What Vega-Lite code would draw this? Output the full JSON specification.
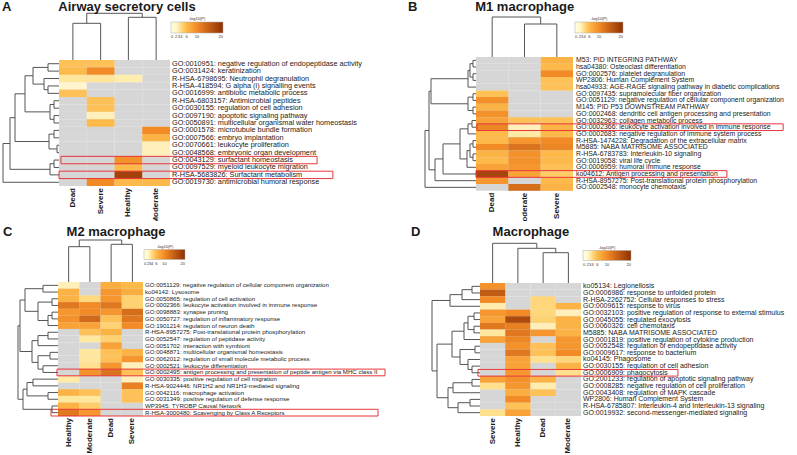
{
"$schema": "https://vega.github.io/schema/vega-lite/v6.json",
"padding": 0,
"spacing": 0,
"resolve": {"scale": {"color": "independent"}, "legend": {"color": "independent"}},
"config": {
  "view": {"stroke": null},
  "axis": {"disable": true},
  "font": "Liberation Sans",
  "text": {"font": "Liberation Sans", "color": "#222"},
  "rule": {"color": "#555", "strokeWidth": 1},
  "title": {"anchor": "start", "frame": "group", "fontSize": 13, "fontWeight": "bold", "font": "Liberation Sans", "color": "#1a1a1a", "offset": -14},
  "legend": {"orient": "none", "direction": "horizontal", "titleFontSize": 4, "titleFontWeight": "normal", "titleAnchor": "middle", "titlePadding": 1, "labelFontSize": 4, "labelOffset": 1, "labelOverlap": false, "gradientStrokeColor": "#aaa", "gradientStrokeWidth": 0.5, "titleColor": "#333", "labelColor": "#333", "titleFont": "Liberation Sans", "labelFont": "Liberation Sans"}
},
"datasets": {
  "A": [
    {"t":"GO:0010951: negative regulation of endopeptidase activity","Dead":5.5,"Severe":5.5},
    {"t":"GO:0031424: keratinization","Dead":6,"Severe":10},
    {"t":"R-HSA-6798695: Neutrophil degranulation","Dead":3.3,"Severe":3.3,"Healthy":2.8},
    {"t":"R-HSA-418594: G alpha (i) signalling events","Dead":2},
    {"t":"GO:0016999: antibiotic metabolic process","Dead":5.5},
    {"t":"R-HSA-6803157: Antimicrobial peptides","Severe":5.5},
    {"t":"GO:0030155: regulation of cell adhesion","Severe":5.5},
    {"t":"GO:0097190: apoptotic signaling pathway","Severe":2.5},
    {"t":"GO:0050891: multicellular organismal water homeostasis","Severe":6},
    {"t":"GO:0001578: microtubule bundle formation","Moderate":10},
    {"t":"GO:0007566: embryo implantation","Moderate":6.5},
    {"t":"GO:0070661: leukocyte proliferation","Moderate":2.5},
    {"t":"GO:0048568: embryonic organ development","Moderate":2.5},
    {"t":"GO:0043129: surfactant homeostasis","Healthy":9.5},
    {"t":"GO:0097529: myeloid leukocyte migration","Healthy":6},
    {"t":"R-HSA-5683826: Surfactant metabolism","Healthy":18},
    {"t":"GO:0019730: antimicrobial humoral response","Severe":10,"Healthy":6,"Moderate":6}
  ],
  "Ah": [
    {"t":"GO:0043129: surfactant homeostasis","b0":0.07,"b1":9.3},
    {"t":"R-HSA-5683826: Surfactant metabolism","b0":0,"b1":9.87}
  ],
  "Ar": [
    {"H":11,"a":0.5,"ha":0,"b":1.5,"hb":0},
    {"H":11,"a":3.5,"ha":0,"b":4.5,"hb":0},
    {"H":15,"a":2.5,"ha":0,"b":4,"hb":11},
    {"H":26,"a":1,"ha":11,"b":3.25,"hb":15},
    {"H":5,"a":5.5,"ha":0,"b":6.5,"hb":0},
    {"H":5,"a":7.5,"ha":0,"b":8.5,"hb":0},
    {"H":9,"a":6,"ha":5,"b":8,"hb":5},
    {"H":34,"a":2.125,"ha":26,"b":7,"hb":9},
    {"H":5,"a":9.5,"ha":0,"b":10.5,"hb":0},
    {"H":2,"a":11.5,"ha":0,"b":12.5,"hb":0},
    {"H":10,"a":10,"ha":5,"b":12,"hb":2},
    {"H":44,"a":4.56,"ha":34,"b":11,"hb":10},
    {"H":5,"a":13.5,"ha":0,"b":14.5,"hb":0},
    {"H":9,"a":14,"ha":5,"b":15.5,"hb":0},
    {"H":49,"a":7.78,"ha":44,"b":14.75,"hb":9},
    {"H":56,"a":11.27,"ha":49,"b":16.5,"hb":0}
  ],
  "Ac": [
    {"H":36.7,"a":0.5,"ha":0,"b":1.5,"hb":0},
    {"H":42.7,"a":2.5,"ha":0,"b":3.5,"hb":0},
    {"H":46.7,"a":1,"ha":36.7,"b":3,"hb":42.7}
  ],
  "B": [
    {"t":"M53: PID INTEGRIN3 PATHWAY","Severe":6.5},
    {"t":"hsa04380: Osteoclast differentiation","Severe":6},
    {"t":"GO:0002576: platelet degranulation","Severe":10},
    {"t":"WP2806: Human Complement System","Severe":5.5},
    {"t":"hsa04933: AGE-RAGE signaling pathway in diabetic complications","Severe":5.5},
    {"t":"GO:0097435: supramolecular fiber organization","Dead":5.5},
    {"t":"GO:0051129: negative regulation of cellular component organization","Dead":9.5},
    {"t":"M145: PID P53 DOWNSTREAM PATHWAY","Dead":6.5},
    {"t":"GO:0002468: dendritic cell antigen processing and presentation","Dead":9.5},
    {"t":"GO:0032963: collagen metabolic process","Dead":8,"Moderate":5.5,"Severe":5.5},
    {"t":"GO:0002366: leukocyte activation involved in immune response","Dead":10.5,"Moderate":2.5,"Severe":6.5},
    {"t":"GO:0002683: negative regulation of immune system process","Dead":6,"Moderate":3,"Severe":6},
    {"t":"R-HSA-1474228: Degradation of the extracellular matrix","Dead":6,"Moderate":9,"Severe":10},
    {"t":"M5885: NABA MATRISOME ASSOCIATED","Dead":10,"Moderate":12.5,"Severe":10.5},
    {"t":"R-HSA-6783783: Interleukin-10 signaling","Dead":6.5,"Moderate":9.5,"Severe":6},
    {"t":"GO:0019058: viral life cycle","Dead":6,"Moderate":9.5,"Severe":6},
    {"t":"GO:0006959: humoral immune response","Dead":8,"Moderate":9,"Severe":5.5},
    {"t":"ko04612: Antigen processing and presentation","Dead":17.5,"Moderate":8,"Severe":4.8},
    {"t":"R-HSA-8957275: Post-translational protein phosphorylation","Dead":9,"Severe":6},
    {"t":"GO:0002548: monocyte chemotaxis","Moderate":13,"Severe":6.5}
  ],
  "Bh": [
    {"t":"GO:0002366: leukocyte activation involved in immune response","b0":0.03,"b1":9.5},
    {"t":"ko04612: Antigen processing and presentation","b0":0,"b1":7.76}
  ],
  "Br": [
    {"H":3,"a":0.5,"ha":0,"b":1.5,"hb":0},
    {"H":3,"a":2.5,"ha":0,"b":3.5,"hb":0},
    {"H":6,"a":1,"ha":3,"b":3,"hb":3},
    {"H":8,"a":2,"ha":6,"b":4.5,"hb":0},
    {"H":3,"a":5.5,"ha":0,"b":6.5,"hb":0},
    {"H":3,"a":7.5,"ha":0,"b":8.5,"hb":0},
    {"H":8,"a":6,"ha":3,"b":8,"hb":3},
    {"H":45,"a":3.25,"ha":8,"b":7,"hb":8},
    {"H":4,"a":9.5,"ha":0,"b":10.5,"hb":0},
    {"H":8,"a":10,"ha":4,"b":11.5,"hb":0},
    {"H":3,"a":12.5,"ha":0,"b":13.5,"hb":0},
    {"H":3,"a":14.5,"ha":0,"b":15.5,"hb":0},
    {"H":6,"a":13,"ha":3,"b":15,"hb":3},
    {"H":9,"a":14,"ha":6,"b":16.5,"hb":0},
    {"H":16,"a":10.75,"ha":8,"b":15.25,"hb":9},
    {"H":33,"a":13,"ha":16,"b":17.5,"hb":0},
    {"H":41,"a":15.25,"ha":33,"b":18.5,"hb":0},
    {"H":47,"a":5.125,"ha":45,"b":16.875,"hb":41},
    {"H":51,"a":11,"ha":47,"b":19.5,"hb":0}
  ],
  "Bc": [
    {"H":33,"a":1.5,"ha":0,"b":2.5,"hb":0},
    {"H":40,"a":0.5,"ha":0,"b":2,"hb":33}
  ],
  "C": [
    {"t":"GO:0051129: negative regulation of cellular component organization","Healthy":2.5,"Dead":7,"Severe":6},
    {"t":"ko04142: Lysosome","Healthy":6.5,"Dead":9,"Severe":7},
    {"t":"GO:0050865: regulation of cell activation","Healthy":6.5,"Moderate":4,"Dead":9,"Severe":4.5},
    {"t":"GO:0002366: leukocyte activation involved in immune response","Healthy":12,"Moderate":10,"Dead":12,"Severe":4.5},
    {"t":"GO:0098883: synapse pruning","Healthy":9,"Moderate":10,"Dead":9,"Severe":13},
    {"t":"GO:0050727: regulation of inflammatory response","Healthy":9.5,"Moderate":13.5,"Dead":5.5,"Severe":12},
    {"t":"GO:1901214: regulation of neuron death","Healthy":8,"Moderate":8,"Dead":4.5,"Severe":10},
    {"t":"R-HSA-8957275: Post-translational protein phosphorylation","Moderate":5.5,"Dead":6.5},
    {"t":"GO:0052547: regulation of peptidase activity","Moderate":3.2,"Dead":4.5},
    {"t":"GO:0051702: interaction with symbiont","Dead":8},
    {"t":"GO:0048871: multicellular organismal homeostasis","Moderate":3.2,"Dead":5.5,"Severe":6.5},
    {"t":"GO:0062012: regulation of small molecule metabolic process","Moderate":3.2,"Dead":5.5,"Severe":9},
    {"t":"GO:0002521: leukocyte differentiation","Moderate":3.6,"Dead":9,"Severe":2.5},
    {"t":"GO:0002495: antigen processing and presentation of peptide antigen via MHC class II","Moderate":9.5,"Dead":12.5,"Severe":5.5},
    {"t":"GO:0030335: positive regulation of cell migration","Healthy":3,"Severe":2.5},
    {"t":"R-HSA-9024446: NR1H2 and NR1H3-mediated signaling","Severe":11},
    {"t":"GO:0042116: macrophage activation","Healthy":6.5,"Moderate":5.5,"Severe":5.5},
    {"t":"GO:0031349: positive regulation of defense response","Healthy":3.2,"Moderate":3.2,"Severe":5.5},
    {"t":"WP3945: TYROBP Causal Network","Healthy":6.5,"Moderate":4.8},
    {"t":"R-HSA-3000480: Scavenging by Class A Receptors","Healthy":12,"Moderate":9}
  ],
  "Ch": [
    {"t":"GO:0002495: antigen processing and presentation of peptide antigen via MHC class II","b0":-0.05,"b1":15.39},
    {"t":"R-HSA-3000480: Scavenging by Class A Receptors","b0":-0.33,"b1":15.06}
  ],
  "Cr": [
    {"H":15,"a":0.5,"ha":0,"b":1.5,"hb":0},
    {"H":6,"a":2.5,"ha":0,"b":3.5,"hb":0},
    {"H":6,"a":4.5,"ha":0,"b":5.5,"hb":0},
    {"H":10,"a":5,"ha":6,"b":6.5,"hb":0},
    {"H":20,"a":3,"ha":6,"b":5.75,"hb":10},
    {"H":33,"a":1,"ha":15,"b":4.375,"hb":20},
    {"H":10,"a":7.5,"ha":0,"b":8.5,"hb":0},
    {"H":20,"a":8,"ha":10,"b":9.5,"hb":0},
    {"H":8,"a":10.5,"ha":0,"b":11.5,"hb":0},
    {"H":15,"a":12.5,"ha":0,"b":13.5,"hb":0},
    {"H":20,"a":11,"ha":8,"b":13,"hb":15},
    {"H":26,"a":8.75,"ha":20,"b":12,"hb":20},
    {"H":38,"a":2.69,"ha":33,"b":10.375,"hb":26},
    {"H":25,"a":14.5,"ha":0,"b":15.5,"hb":0},
    {"H":10,"a":16.5,"ha":0,"b":17.5,"hb":0},
    {"H":31,"a":15,"ha":25,"b":17,"hb":10},
    {"H":6,"a":18.5,"ha":0,"b":19.5,"hb":0},
    {"H":35,"a":16,"ha":31,"b":19,"hb":6},
    {"H":40,"a":6.53,"ha":38,"b":17.5,"hb":35}
  ],
  "Cc": [
    {"H":35.3,"a":0.5,"ha":0,"b":1.5,"hb":0},
    {"H":37.7,"a":2.5,"ha":0,"b":3.5,"hb":0},
    {"H":42,"a":1,"ha":35.3,"b":3,"hb":37.7}
  ],
  "D": [
    {"t":"ko05134: Legionellosis","Severe":9.5},
    {"t":"GO:0006986: response to unfolded protein","Severe":15},
    {"t":"R-HSA-2262752: Cellular responses to stress","Severe":10,"Dead":4.2},
    {"t":"GO:0009615: response to virus","Severe":2.8,"Dead":4.2,"Moderate":6.5},
    {"t":"GO:0032103: positive regulation of response to external stimulus","Severe":9,"Healthy":10,"Dead":4.2,"Moderate":2.5},
    {"t":"GO:0045055: regulated exocytosis","Severe":8,"Healthy":17,"Dead":4.5,"Moderate":6.5},
    {"t":"GO:0060326: cell chemotaxis","Severe":12,"Healthy":11,"Dead":2.5,"Moderate":6.5},
    {"t":"M5885: NABA MATRISOME ASSOCIATED","Severe":3.2,"Healthy":12,"Dead":9,"Moderate":6.5},
    {"t":"GO:0001819: positive regulation of cytokine production","Severe":8,"Healthy":10.5,"Moderate":9},
    {"t":"GO:0052548: regulation of endopeptidase activity","Healthy":9.5,"Dead":5.5,"Moderate":9},
    {"t":"GO:0009617: response to bacterium","Healthy":12,"Dead":5.5,"Moderate":10},
    {"t":"ko04145: Phagosome","Healthy":8,"Dead":3.6,"Moderate":4.2},
    {"t":"GO:0030155: regulation of cell adhesion","Healthy":8,"Moderate":6.5},
    {"t":"GO:0006909: phagocytosis","Healthy":9,"Moderate":3.6},
    {"t":"GO:2001233: regulation of apoptotic signaling pathway","Severe":8,"Healthy":9.5,"Dead":6.5},
    {"t":"GO:0008285: negative regulation of cell proliferation","Severe":3.6,"Healthy":9,"Dead":2.8},
    {"t":"GO:0043408: regulation of MAPK cascade","Healthy":7,"Dead":5.5},
    {"t":"WP2806: Human Complement System","Healthy":10},
    {"t":"R-HSA-6785807: Interleukin-4 and Interleukin-13 signaling","Healthy":5.5},
    {"t":"GO:0019932: second-messenger-mediated signaling","Severe":3.6,"Healthy":8}
  ],
  "Dh": [
    {"t":"GO:0006909: phagocytosis","b0":-0.08,"b1":7.84}
  ],
  "Dr": [
    {"H":8,"a":0.5,"ha":0,"b":1.5,"hb":0},
    {"H":18,"a":1,"ha":8,"b":2.5,"hb":0},
    {"H":30,"a":1.75,"ha":18,"b":3.5,"hb":0},
    {"H":6,"a":4.5,"ha":0,"b":5.5,"hb":0},
    {"H":6,"a":6.5,"ha":0,"b":7.5,"hb":0},
    {"H":12,"a":5,"ha":6,"b":7,"hb":6},
    {"H":16,"a":6,"ha":12,"b":8.5,"hb":0},
    {"H":5,"a":9.5,"ha":0,"b":10.5,"hb":0},
    {"H":8,"a":12.5,"ha":0,"b":13.5,"hb":0},
    {"H":12,"a":11.5,"ha":0,"b":13,"hb":8},
    {"H":20,"a":10,"ha":5,"b":12.25,"hb":12},
    {"H":28,"a":7.25,"ha":16,"b":11.125,"hb":20},
    {"H":8,"a":14.5,"ha":0,"b":15.5,"hb":0},
    {"H":27,"a":15,"ha":8,"b":16.5,"hb":0},
    {"H":10,"a":17.5,"ha":0,"b":18.5,"hb":0},
    {"H":22,"a":18,"ha":10,"b":19.5,"hb":0},
    {"H":32,"a":15.75,"ha":27,"b":18.75,"hb":22},
    {"H":43,"a":9.19,"ha":28,"b":17.25,"hb":32},
    {"H":48,"a":2.625,"ha":30,"b":13.22,"hb":43}
  ],
  "Dc": [
    {"H":30.3,"a":2.5,"ha":0,"b":3.5,"hb":0},
    {"H":34.7,"a":1.5,"ha":0,"b":3,"hb":30.3},
    {"H":39.7,"a":0.5,"ha":0,"b":2.25,"hb":34.7}
  ]
},
"vconcat": [
 {
  "hconcat": [
   {
    "width": 400, "height": 221,
    "title": {"text": "A\u00a0\u00a0\u00a0\u00a0\u00a0\u00a0\u00a0\u00a0\u00a0\u00a0\u00a0\u00a0\u00a0Airway secretory cells", "dx": 2},
    "layer": [
     {"data": {"name": "A"},
      "layer": [
       {"layer": [
         {"transform": [{"fold": ["Dead","Severe","Healthy","Moderate"]}],
          "mark": {"type": "rect", "color": "#d6d6d6"},
          "encoding": {
           "x": {"field": "key", "type": "nominal", "scale": {"domain": ["Dead","Severe","Healthy","Moderate"], "range": [59,170], "paddingInner": 0, "paddingOuter": 0}},
           "y": {"field": "t", "type": "nominal", "scale": {"domain": ["GO:0010951: negative regulation of endopeptidase activity","GO:0031424: keratinization","R-HSA-6798695: Neutrophil degranulation","R-HSA-418594: G alpha (i) signalling events","GO:0016999: antibiotic metabolic process","R-HSA-6803157: Antimicrobial peptides","GO:0030155: regulation of cell adhesion","GO:0097190: apoptotic signaling pathway","GO:0050891: multicellular organismal water homeostasis","GO:0001578: microtubule bundle formation","GO:0007566: embryo implantation","GO:0070661: leukocyte proliferation","GO:0048568: embryonic organ development","GO:0043129: surfactant homeostasis","GO:0097529: myeloid leukocyte migration","R-HSA-5683826: Surfactant metabolism","GO:0019730: antimicrobial humoral response"], "range": [60,186], "paddingInner": 0, "paddingOuter": 0}}
          }},
         {"transform": [{"fold": ["Dead","Severe","Healthy","Moderate"]}, {"filter": "datum.value != null"}],
          "mark": "rect",
          "encoding": {
           "x": {"field": "key", "type": "nominal"},
           "y": {"field": "t", "type": "nominal"},
           "color": {"field": "value", "type": "quantitative",
             "scale": {"type": "linear", "domain": [0,2,3,4,6,10,20], "range": ["#ffffff","#fff6d0","#ffeaa6","#ffd97e","#fdb94a","#f28b26","#8f2f04"]},
             "legend": {"title": "-log10(P)", "values": [0,2,3,4,6,10,20], "legendX": 171, "legendY": 17, "gradientLength": 52, "gradientThickness": 11}}
          }},
         {"mark": {"type": "text", "align": "left", "dx": 2, "fontSize": 7.3, "color": "#222"},
          "encoding": {
           "x": {"datum": "Moderate", "type": "nominal", "bandPosition": 1},
           "y": {"field": "t", "type": "nominal"},
           "text": {"field": "t"}
          }},
         {"transform": [{"fold": ["Dead","Severe","Healthy","Moderate"]}, {"aggregate": [{"op": "count", "as": "n"}], "groupby": ["key"]}],
          "mark": {"type": "text", "angle": 270, "align": "right", "dx": -2, "fontSize": 8, "fontWeight": "bold", "clip": true, "color": "#1a1a1a"},
          "encoding": {
           "x": {"field": "key", "type": "nominal"},
           "y": {"datum": "GO:0019730: antimicrobial humoral response", "type": "nominal", "bandPosition": 1},
           "text": {"field": "key"}
          }}
       ]},
       {"data": {"name": "Ah"},
        "mark": {"type": "rect", "filled": false, "color": "#e8353a", "strokeWidth": 1},
        "encoding": {
         "x": {"field": "b0", "type": "quantitative", "scale": {"domain": [0,4], "range": [59,170], "nice": false, "zero": false}},
         "x2": {"field": "b1"},
         "y": {"field": "t", "type": "nominal"}
        }}
      ],
      "resolve": {"scale": {"x": "independent"}}},
     {"data": {"name": "Ar"},
      "layer": [
       {"mark": "rule", "encoding": {"x": {"field": "H", "type": "quantitative", "scale": {"domain": [0,56], "range": [59,3], "nice": false, "zero": false}}, "y": {"field": "a", "type": "quantitative", "scale": {"domain": [0,17], "range": [60,186], "nice": false, "zero": false}}, "y2": {"field": "b"}}},
       {"mark": "rule", "encoding": {"x": {"field": "ha", "type": "quantitative"}, "x2": {"field": "H"}, "y": {"field": "a", "type": "quantitative"}}},
       {"mark": "rule", "encoding": {"x": {"field": "hb", "type": "quantitative"}, "x2": {"field": "H"}, "y": {"field": "b", "type": "quantitative"}}}
      ]},
     {"data": {"name": "Ac"},
      "layer": [
       {"mark": "rule", "encoding": {"y": {"field": "H", "type": "quantitative", "scale": {"domain": [0,50], "range": [60,10], "nice": false, "zero": false}}, "x": {"field": "a", "type": "quantitative", "scale": {"domain": [0,4], "range": [59,170], "nice": false, "zero": false}}, "x2": {"field": "b"}}},
       {"mark": "rule", "encoding": {"y": {"field": "ha", "type": "quantitative"}, "y2": {"field": "H"}, "x": {"field": "a", "type": "quantitative"}}},
       {"mark": "rule", "encoding": {"y": {"field": "hb", "type": "quantitative"}, "y2": {"field": "H"}, "x": {"field": "b", "type": "quantitative"}}}
      ]}
    ],
    "resolve": {"scale": {"x": "independent", "y": "independent"}}
   },
   {
    "width": 397, "height": 221,
    "title": {"text": "B\u00a0\u00a0\u00a0\u00a0\u00a0\u00a0\u00a0\u00a0\u00a0\u00a0\u00a0\u00a0\u00a0\u00a0\u00a0\u00a0M1 macrophage", "dx": 8},
    "layer": [
     {"data": {"name": "B"},
      "layer": [
       {"layer": [
         {"transform": [{"fold": ["Dead","Moderate","Severe"]}],
          "mark": {"type": "rect", "color": "#d6d6d6"},
          "encoding": {
           "x": {"field": "key", "type": "nominal", "scale": {"domain": ["Dead","Moderate","Severe"], "range": [76,173], "paddingInner": 0, "paddingOuter": 0}},
           "y": {"field": "t", "type": "nominal", "scale": {"domain": ["M53: PID INTEGRIN3 PATHWAY","hsa04380: Osteoclast differentiation","GO:0002576: platelet degranulation","WP2806: Human Complement System","hsa04933: AGE-RAGE signaling pathway in diabetic complications","GO:0097435: supramolecular fiber organization","GO:0051129: negative regulation of cellular component organization","M145: PID P53 DOWNSTREAM PATHWAY","GO:0002468: dendritic cell antigen processing and presentation","GO:0032963: collagen metabolic process","GO:0002366: leukocyte activation involved in immune response","GO:0002683: negative regulation of immune system process","R-HSA-1474228: Degradation of the extracellular matrix","M5885: NABA MATRISOME ASSOCIATED","R-HSA-6783783: Interleukin-10 signaling","GO:0019058: viral life cycle","GO:0006959: humoral immune response","ko04612: Antigen processing and presentation","R-HSA-8957275: Post-translational protein phosphorylation","GO:0002548: monocyte chemotaxis"], "range": [57,190.7], "paddingInner": 0, "paddingOuter": 0}}
          }},
         {"transform": [{"fold": ["Dead","Moderate","Severe"]}, {"filter": "datum.value != null"}],
          "mark": "rect",
          "encoding": {
           "x": {"field": "key", "type": "nominal"},
           "y": {"field": "t", "type": "nominal"},
           "color": {"field": "value", "type": "quantitative",
             "scale": {"type": "linear", "domain": [0,2,3,4,6,10,20], "range": ["#ffffff","#fff6d0","#ffeaa6","#ffd97e","#fdb94a","#f28b26","#8f2f04"]},
             "legend": {"title": "-log10(P)", "values": [0,2,3,4,6,10,20], "legendX": 175, "legendY": 17, "gradientLength": 48, "gradientThickness": 11}}
          }},
         {"mark": {"type": "text", "align": "left", "dx": 3, "fontSize": 6.9, "color": "#222"},
          "encoding": {
           "x": {"datum": "Severe", "type": "nominal", "bandPosition": 1},
           "y": {"field": "t", "type": "nominal"},
           "text": {"field": "t"}
          }},
         {"transform": [{"fold": ["Dead","Moderate","Severe"]}, {"aggregate": [{"op": "count", "as": "n"}], "groupby": ["key"]}],
          "mark": {"type": "text", "angle": 270, "align": "right", "dx": -2, "fontSize": 8, "fontWeight": "bold", "clip": true, "color": "#1a1a1a"},
          "encoding": {
           "x": {"field": "key", "type": "nominal"},
           "y": {"datum": "GO:0002548: monocyte chemotaxis", "type": "nominal", "bandPosition": 1},
           "text": {"field": "key"}
          }}
       ]},
       {"data": {"name": "Bh"},
        "mark": {"type": "rect", "filled": false, "color": "#e8353a", "strokeWidth": 1},
        "encoding": {
         "x": {"field": "b0", "type": "quantitative", "scale": {"domain": [0,3], "range": [76,173], "nice": false, "zero": false}},
         "x2": {"field": "b1"},
         "y": {"field": "t", "type": "nominal"}
        }}
      ],
      "resolve": {"scale": {"x": "independent"}}},
     {"data": {"name": "Br"},
      "layer": [
       {"mark": "rule", "encoding": {"x": {"field": "H", "type": "quantitative", "scale": {"domain": [0,52], "range": [76,24], "nice": false, "zero": false}}, "y": {"field": "a", "type": "quantitative", "scale": {"domain": [0,20], "range": [57,190.7], "nice": false, "zero": false}}, "y2": {"field": "b"}}},
       {"mark": "rule", "encoding": {"x": {"field": "ha", "type": "quantitative"}, "x2": {"field": "H"}, "y": {"field": "a", "type": "quantitative"}}},
       {"mark": "rule", "encoding": {"x": {"field": "hb", "type": "quantitative"}, "x2": {"field": "H"}, "y": {"field": "b", "type": "quantitative"}}}
      ]},
     {"data": {"name": "Bc"},
      "layer": [
       {"mark": "rule", "encoding": {"y": {"field": "H", "type": "quantitative", "scale": {"domain": [0,50], "range": [57,7], "nice": false, "zero": false}}, "x": {"field": "a", "type": "quantitative", "scale": {"domain": [0,3], "range": [76,173], "nice": false, "zero": false}}, "x2": {"field": "b"}}},
       {"mark": "rule", "encoding": {"y": {"field": "ha", "type": "quantitative"}, "y2": {"field": "H"}, "x": {"field": "a", "type": "quantitative"}}},
       {"mark": "rule", "encoding": {"y": {"field": "hb", "type": "quantitative"}, "y2": {"field": "H"}, "x": {"field": "b", "type": "quantitative"}}}
      ]}
    ],
    "resolve": {"scale": {"x": "independent", "y": "independent"}}
   }
  ],
  "spacing": 0,
  "bounds": "flush",
  "resolve": {"scale": {"color": "independent"}, "legend": {"color": "independent"}}
 },
 {
  "hconcat": [
   {
    "width": 400, "height": 234,
    "title": {"text": "C\u00a0\u00a0\u00a0\u00a0\u00a0\u00a0\u00a0\u00a0\u00a0\u00a0\u00a0\u00a0\u00a0\u00a0\u00a0M2 macrophage", "dx": 3, "offset": -18},
    "layer": [
     {"data": {"name": "C"},
      "layer": [
       {"layer": [
         {"transform": [{"fold": ["Healthy","Moderate","Dead","Severe"]}],
          "mark": {"type": "rect", "color": "#d6d6d6"},
          "encoding": {
           "x": {"field": "key", "type": "nominal", "scale": {"domain": ["Healthy","Moderate","Dead","Severe"], "range": [58,143], "paddingInner": 0, "paddingOuter": 0}},
           "y": {"field": "t", "type": "nominal", "scale": {"domain": ["GO:0051129: negative regulation of cellular component organization","ko04142: Lysosome","GO:0050865: regulation of cell activation","GO:0002366: leukocyte activation involved in immune response","GO:0098883: synapse pruning","GO:0050727: regulation of inflammatory response","GO:1901214: regulation of neuron death","R-HSA-8957275: Post-translational protein phosphorylation","GO:0052547: regulation of peptidase activity","GO:0051702: interaction with symbiont","GO:0048871: multicellular organismal homeostasis","GO:0062012: regulation of small molecule metabolic process","GO:0002521: leukocyte differentiation","GO:0002495: antigen processing and presentation of peptide antigen via MHC class II","GO:0030335: positive regulation of cell migration","R-HSA-9024446: NR1H2 and NR1H3-mediated signaling","GO:0042116: macrophage activation","GO:0031349: positive regulation of defense response","WP3945: TYROBP Causal Network","R-HSA-3000480: Scavenging by Class A Receptors"], "range": [61,195], "paddingInner": 0, "paddingOuter": 0}}
          }},
         {"transform": [{"fold": ["Healthy","Moderate","Dead","Severe"]}, {"filter": "datum.value != null"}],
          "mark": "rect",
          "encoding": {
           "x": {"field": "key", "type": "nominal"},
           "y": {"field": "t", "type": "nominal"},
           "color": {"field": "value", "type": "quantitative",
             "scale": {"type": "linear", "domain": [0,2,3,4,6,10,20], "range": ["#ffffff","#fff6d0","#ffeaa6","#ffd97e","#fdb94a","#f28b26","#8f2f04"]},
             "legend": {"title": "-log10(P)", "values": [0,2,3,4,6,10,20], "legendX": 144, "legendY": 23.5, "gradientLength": 41, "gradientThickness": 10}}
          }},
         {"mark": {"type": "text", "align": "left", "dx": 2, "fontSize": 6.1, "color": "#222"},
          "encoding": {
           "x": {"datum": "Severe", "type": "nominal", "bandPosition": 1},
           "y": {"field": "t", "type": "nominal"},
           "text": {"field": "t"}
          }},
         {"transform": [{"fold": ["Healthy","Moderate","Dead","Severe"]}, {"aggregate": [{"op": "count", "as": "n"}], "groupby": ["key"]}],
          "mark": {"type": "text", "angle": 270, "align": "right", "dx": -2, "fontSize": 8, "fontWeight": "bold", "clip": true, "color": "#1a1a1a"},
          "encoding": {
           "x": {"field": "key", "type": "nominal"},
           "y": {"datum": "R-HSA-3000480: Scavenging by Class A Receptors", "type": "nominal", "bandPosition": 1},
           "text": {"field": "key"}
          }}
       ]},
       {"data": {"name": "Ch"},
        "mark": {"type": "rect", "filled": false, "color": "#e8353a", "strokeWidth": 1},
        "encoding": {
         "x": {"field": "b0", "type": "quantitative", "scale": {"domain": [0,4], "range": [58,143], "nice": false, "zero": false}},
         "x2": {"field": "b1"},
         "y": {"field": "t", "type": "nominal"}
        }}
      ],
      "resolve": {"scale": {"x": "independent"}}},
     {"data": {"name": "Cr"},
      "layer": [
       {"mark": "rule", "encoding": {"x": {"field": "H", "type": "quantitative", "scale": {"domain": [0,41], "range": [58,17], "nice": false, "zero": false}}, "y": {"field": "a", "type": "quantitative", "scale": {"domain": [0,20], "range": [61,195], "nice": false, "zero": false}}, "y2": {"field": "b"}}},
       {"mark": "rule", "encoding": {"x": {"field": "ha", "type": "quantitative"}, "x2": {"field": "H"}, "y": {"field": "a", "type": "quantitative"}}},
       {"mark": "rule", "encoding": {"x": {"field": "hb", "type": "quantitative"}, "x2": {"field": "H"}, "y": {"field": "b", "type": "quantitative"}}}
      ]},
     {"data": {"name": "Cc"},
      "layer": [
       {"mark": "rule", "encoding": {"y": {"field": "H", "type": "quantitative", "scale": {"domain": [0,50], "range": [61,11], "nice": false, "zero": false}}, "x": {"field": "a", "type": "quantitative", "scale": {"domain": [0,4], "range": [58,143], "nice": false, "zero": false}}, "x2": {"field": "b"}}},
       {"mark": "rule", "encoding": {"y": {"field": "ha", "type": "quantitative"}, "y2": {"field": "H"}, "x": {"field": "a", "type": "quantitative"}}},
       {"mark": "rule", "encoding": {"y": {"field": "hb", "type": "quantitative"}, "y2": {"field": "H"}, "x": {"field": "b", "type": "quantitative"}}}
      ]}
    ],
    "resolve": {"scale": {"x": "independent", "y": "independent"}}
   },
   {
    "width": 397, "height": 234,
    "title": {"text": "D\u00a0\u00a0\u00a0\u00a0\u00a0\u00a0\u00a0\u00a0\u00a0\u00a0\u00a0\u00a0\u00a0\u00a0\u00a0\u00a0\u00a0\u00a0\u00a0\u00a0Macrophage", "dx": 11, "offset": -18},
    "layer": [
     {"data": {"name": "D"},
      "layer": [
       {"layer": [
         {"transform": [{"fold": ["Severe","Healthy","Dead","Moderate"]}],
          "mark": {"type": "rect", "color": "#d6d6d6"},
          "encoding": {
           "x": {"field": "key", "type": "nominal", "scale": {"domain": ["Severe","Healthy","Dead","Moderate"], "range": [80,181], "paddingInner": 0, "paddingOuter": 0}},
           "y": {"field": "t", "type": "nominal", "scale": {"domain": ["ko05134: Legionellosis","GO:0006986: response to unfolded protein","R-HSA-2262752: Cellular responses to stress","GO:0009615: response to virus","GO:0032103: positive regulation of response to external stimulus","GO:0045055: regulated exocytosis","GO:0060326: cell chemotaxis","M5885: NABA MATRISOME ASSOCIATED","GO:0001819: positive regulation of cytokine production","GO:0052548: regulation of endopeptidase activity","GO:0009617: response to bacterium","ko04145: Phagosome","GO:0030155: regulation of cell adhesion","GO:0006909: phagocytosis","GO:2001233: regulation of apoptotic signaling pathway","GO:0008285: negative regulation of cell proliferation","GO:0043408: regulation of MAPK cascade","WP2806: Human Complement System","R-HSA-6785807: Interleukin-4 and Interleukin-13 signaling","GO:0019932: second-messenger-mediated signaling"], "range": [62,195], "paddingInner": 0, "paddingOuter": 0}}
          }},
         {"transform": [{"fold": ["Severe","Healthy","Dead","Moderate"]}, {"filter": "datum.value != null"}],
          "mark": "rect",
          "encoding": {
           "x": {"field": "key", "type": "nominal"},
           "y": {"field": "t", "type": "nominal"},
           "color": {"field": "value", "type": "quantitative",
             "scale": {"type": "linear", "domain": [0,2,3,4,6,10,20], "range": ["#ffffff","#fff6d0","#ffeaa6","#ffd97e","#fdb94a","#f28b26","#8f2f04"]},
             "legend": {"title": "-log10(P)", "values": [0,2,3,4,6,10,20], "legendX": 183, "legendY": 24.5, "gradientLength": 48, "gradientThickness": 10}}
          }},
         {"mark": {"type": "text", "align": "left", "dx": 2, "fontSize": 7, "color": "#222"},
          "encoding": {
           "x": {"datum": "Moderate", "type": "nominal", "bandPosition": 1},
           "y": {"field": "t", "type": "nominal"},
           "text": {"field": "t"}
          }},
         {"transform": [{"fold": ["Severe","Healthy","Dead","Moderate"]}, {"aggregate": [{"op": "count", "as": "n"}], "groupby": ["key"]}],
          "mark": {"type": "text", "angle": 270, "align": "right", "dx": -2, "fontSize": 8, "fontWeight": "bold", "clip": true, "color": "#1a1a1a"},
          "encoding": {
           "x": {"field": "key", "type": "nominal"},
           "y": {"datum": "GO:0019932: second-messenger-mediated signaling", "type": "nominal", "bandPosition": 1},
           "text": {"field": "key"}
          }}
       ]},
       {"data": {"name": "Dh"},
        "mark": {"type": "rect", "filled": false, "color": "#e8353a", "strokeWidth": 1},
        "encoding": {
         "x": {"field": "b0", "type": "quantitative", "scale": {"domain": [0,4], "range": [80,181], "nice": false, "zero": false}},
         "x2": {"field": "b1"},
         "y": {"field": "t", "type": "nominal"}
        }}
      ],
      "resolve": {"scale": {"x": "independent"}}},
     {"data": {"name": "Dr"},
      "layer": [
       {"mark": "rule", "encoding": {"x": {"field": "H", "type": "quantitative", "scale": {"domain": [0,48], "range": [80,32], "nice": false, "zero": false}}, "y": {"field": "a", "type": "quantitative", "scale": {"domain": [0,20], "range": [62,195], "nice": false, "zero": false}}, "y2": {"field": "b"}}},
       {"mark": "rule", "encoding": {"x": {"field": "ha", "type": "quantitative"}, "x2": {"field": "H"}, "y": {"field": "a", "type": "quantitative"}}},
       {"mark": "rule", "encoding": {"x": {"field": "hb", "type": "quantitative"}, "x2": {"field": "H"}, "y": {"field": "b", "type": "quantitative"}}}
      ]},
     {"data": {"name": "Dc"},
      "layer": [
       {"mark": "rule", "encoding": {"y": {"field": "H", "type": "quantitative", "scale": {"domain": [0,50], "range": [62,12], "nice": false, "zero": false}}, "x": {"field": "a", "type": "quantitative", "scale": {"domain": [0,4], "range": [80,181], "nice": false, "zero": false}}, "x2": {"field": "b"}}},
       {"mark": "rule", "encoding": {"y": {"field": "ha", "type": "quantitative"}, "y2": {"field": "H"}, "x": {"field": "a", "type": "quantitative"}}},
       {"mark": "rule", "encoding": {"y": {"field": "hb", "type": "quantitative"}, "y2": {"field": "H"}, "x": {"field": "b", "type": "quantitative"}}}
      ]}
    ],
    "resolve": {"scale": {"x": "independent", "y": "independent"}}
   }
  ],
  "spacing": 0,
  "bounds": "flush",
  "resolve": {"scale": {"color": "independent"}, "legend": {"color": "independent"}}
 }
]
}
